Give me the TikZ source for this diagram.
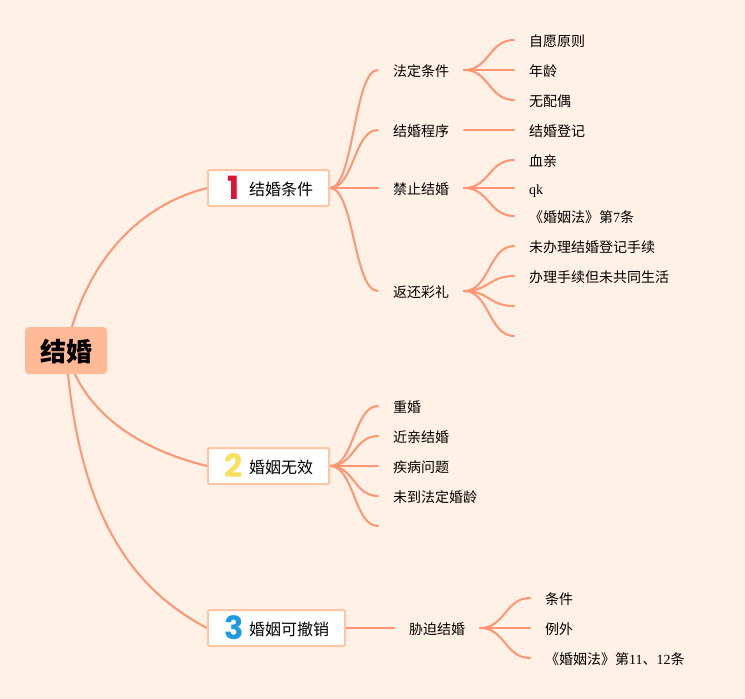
\documentclass[tikz,border=0pt]{standalone}
\usepackage{fontspec}
\setmainfont{Liberation Serif}
\newfontfamily\cjk{Noto Sans CJK SC}
\newfontfamily\numfont{Poppins}
\usetikzlibrary{calc,backgrounds}
\definecolor{pagebg}{HTML}{FFF1E6}
\definecolor{rootfill}{HTML}{FFB996}
\definecolor{linkc}{HTML}{FF9573}
\definecolor{boxline}{HTML}{FFC6A6}
\definecolor{numa}{HTML}{DC1332}
\definecolor{numb}{HTML}{F6E05E}
\definecolor{numc}{HTML}{1D9BE0}
\newcommand\zh[1]{{\cjk #1}}
\newcommand\cn[2]{\draw[linkline] (#1) .. controls ($(#1)!0.5!(#2 |- #1)$) and ($(#2)!0.5!(#1 |- #2)$) .. (#2);}
\tikzset{
  linkline/.style={draw=linkc,line width=2pt,line cap=round},
  rootbox/.style={fill=rootfill,rounded corners=4pt,minimum width=82pt,minimum height=47pt,inner sep=0pt,text height=24pt,text depth=2.2pt,font=\fontsize{26pt}{30pt}\selectfont\bfseries},
  mainbox/.style={draw=boxline,fill=white,line width=2pt,rounded corners=1pt,minimum height=36pt,inner sep=0pt,anchor=west,text height=16pt,text depth=1.8pt,font=\fontsize{16pt}{18pt}\selectfont},
  numtext/.style={inner sep=0pt,font=\fontsize{32pt}{36pt}\selectfont\numfont\bfseries},
  midtext/.style={minimum width=86pt,minimum height=20pt,inner sep=0pt,text height=15pt,text depth=1.8pt,font=\fontsize{14pt}{16pt}\selectfont},
  leaftext/.style={anchor=west,minimum height=20pt,inner sep=0pt,text height=15pt,text depth=1.8pt,font=\fontsize{14pt}{16pt}\selectfont},
}
\newcommand\lf[1]{\hspace*{15pt}#1}
\begin{document}
\begin{tikzpicture}[x=1pt,y=-1pt]
\useasboundingbox (0,0) rectangle (745,699);
\node[rootbox] (root) at (66,350.5) {\zh{结婚}};
\node[mainbox] (b1) at (207,188) {\hspace*{41pt}\zh{结婚条件}\hspace*{16pt}};
\node[mainbox] (b2) at (207,466) {\hspace*{41pt}\zh{婚姻无效}\hspace*{16pt}};
\node[mainbox] (b3) at (207,628) {\hspace*{41pt}\zh{婚姻可撤销}\hspace*{16pt}};
\node[numtext,text=numa] (n1) at (234,188) {1};
\node[numtext,text=numb] (n2) at (234,466) {2};
\node[numtext,text=numc] (n3) at (234,628) {3};
% level 2 under b1
\node[midtext] (m1) at (421,70) {\zh{法定条件}};
\node[midtext] (m2) at (421,130) {\zh{结婚程序}};
\node[midtext] (m3) at (421,188) {\zh{禁止结婚}};
\node[midtext] (m4) at (421,291) {\zh{返还彩礼}};
\node[leaftext] (a1) at (514,40) {\lf{\zh{自愿原则}}};
\node[leaftext] (a2) at (514,70) {\lf{\zh{年龄}}};
\node[leaftext] (a3) at (514,100) {\lf{\zh{无配偶}}};
\node[leaftext] (a4) at (514,130) {\lf{\zh{结婚登记}}};
\node[leaftext] (a5) at (514,160) {\lf{\zh{血亲}}};
\node[leaftext] (a6) at (514,188) {\lf{qk}};
\node[leaftext] (a7) at (514,216) {\lf{\zh{《婚姻法》第}7\zh{条}}};
\node[leaftext] (a8) at (514,246) {\lf{\zh{未办理结婚登记手续}}};
\node[leaftext] (a9) at (514,276) {\lf{\zh{办理手续但未共同生活}}};
\node[leaftext] (a10) at (514,306) {};
\node[leaftext] (a11) at (514,336) {};
% under b2
\node[leaftext] (c1) at (378,406) {\lf{\zh{重婚}}};
\node[leaftext] (c2) at (378,436) {\lf{\zh{近亲结婚}}};
\node[leaftext] (c3) at (378,466) {\lf{\zh{疾病问题}}};
\node[leaftext] (c4) at (378,496) {\lf{\zh{未到法定婚龄}}};
\node[leaftext] (c5) at (378,526) {};
% under b3
\node[midtext] (d0) at (437,628) {\zh{胁迫结婚}};
\node[leaftext] (d1) at (530,598) {\lf{\zh{条件}}};
\node[leaftext] (d2) at (530,628) {\lf{\zh{例外}}};
\node[leaftext] (d3) at (530,658) {\lf{\zh{《婚姻法》第}11\zh{、}12\zh{条}}};
\begin{pgfonlayer}{background}
\fill[pagebg] (0,0) rectangle (745,699);
\draw[linkline] (root.center) .. controls (85,260) and (140,205) .. (b1.west);
\draw[linkline] (root.center) .. controls (85,420) and (150,452) .. (b2.west);
\draw[linkline] (root.center) .. controls (78,520) and (135,590) .. (b3.west);
\cn{b1.east}{m1.west}
\cn{b1.east}{m2.west}
\cn{b1.east}{m3.west}
\cn{b1.east}{m4.west}
\cn{m1.east}{a1.west}
\cn{m1.east}{a2.west}
\cn{m1.east}{a3.west}
\cn{m2.east}{a4.west}
\cn{m3.east}{a5.west}
\cn{m3.east}{a6.west}
\cn{m3.east}{a7.west}
\cn{m4.east}{a8.west}
\cn{m4.east}{a9.west}
\cn{m4.east}{a10.west}
\cn{m4.east}{a11.west}
\cn{b2.east}{c1.west}
\cn{b2.east}{c2.west}
\cn{b2.east}{c3.west}
\cn{b2.east}{c4.west}
\cn{b2.east}{c5.west}
\cn{b3.east}{d0.west}
\cn{d0.east}{d1.west}
\cn{d0.east}{d2.west}
\cn{d0.east}{d3.west}
\end{pgfonlayer}
\end{tikzpicture}
\end{document}
